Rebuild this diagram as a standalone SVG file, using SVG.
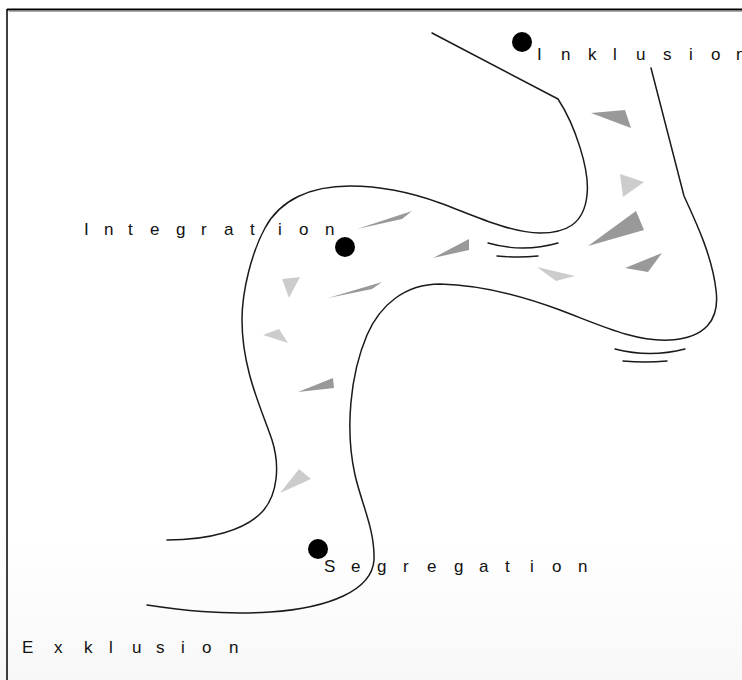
<svg xmlns="http://www.w3.org/2000/svg" width="742" height="680" viewBox="0 0 742 680">
  <defs>
    <linearGradient id="floor" x1="0" y1="0" x2="0" y2="1">
      <stop offset="0" stop-color="#ffffff"/>
      <stop offset="1" stop-color="#f8f8f8"/>
    </linearGradient>
  </defs>
  <style>
    .band { fill: none; stroke: #1a1a1a; stroke-width: 1.5; stroke-linecap: round; stroke-linejoin: round; }
    .ripple { fill: none; stroke: #1a1a1a; stroke-width: 1.4; stroke-linecap: round; }
    .dark { fill: #999999; }
    .light { fill: #cccccc; }
    .dot { fill: #000000; }
    .label { font-family: "Liberation Sans", Arial, sans-serif; font-size: 17px; fill: #111111; }
  </style>

  <!-- page background and frame -->
  <rect x="0" y="0" width="742" height="680" fill="#ffffff"/>
  <rect x="0" y="540" width="742" height="140" fill="url(#floor)"/>
  <line x1="7" y1="9.5" x2="742" y2="9.5" stroke="#000" stroke-width="2"/>
  <line x1="7" y1="9" x2="7" y2="680" stroke="#000" stroke-width="1.5"/>
  <line x1="9" y1="11.5" x2="742" y2="11.5" stroke="#aaa" stroke-width="1"/>

  <!-- the winding band -->
  <g id="connectors">
    <path class="band" d="M432,33 L558,99 C575,125 590,170 587,195 C584,225 565,233 540,233 C510,233 470,214 440,203 C410,192 380,186 350,186 C310,186 280,200 265,228 C252,252 242,290 242,320 C242,370 262,410 272,440 C280,465 278,495 262,512 C245,530 210,540 167,540"/>
    <path class="band" d="M651,68 L684,196 C695,220 712,255 716,290 C720,320 705,338 670,340 C635,342 600,325 560,310 C520,295 480,285 440,284 C405,284 380,305 367,335 C350,375 345,430 355,475 C362,505 375,530 374,560 C372,590 330,608 270,612 C220,615 180,610 147,605"/>
    <!-- ripples -->
    <path class="ripple" d="M488,243 Q523,253 558,243"/>
    <path class="ripple" d="M497,256 Q518,258 538,256"/>
    <path class="ripple" d="M615,349 Q650,358 685,349"/>
    <path class="ripple" d="M623,361 Q645,363 667,361"/>
  </g>

  <!-- drifting fragments -->
  <g id="fragments">
    <polygon class="dark" points="591,113 625,110 631,128"/>
    <polygon class="light" points="620,174 644,182 623,197"/>
    <polygon class="dark" points="588,246 636,211 644,230"/>
    <polygon class="dark" points="625,268 662,253 648,272"/>
    <polygon class="light" points="537,267 575,276 556,281"/>
    <polygon class="dark" points="433,258 469,239 469,250"/>
    <polygon class="dark" points="357,229 412,211 402,219"/>
    <polygon class="light" points="282,279 300,277 289,298"/>
    <polygon class="dark" points="328,298 382,282 372,289"/>
    <polygon class="light" points="263,335 279,329 288,343"/>
    <polygon class="dark" points="298,392 333,378 334,388"/>
    <polygon class="light" points="280,493 299,469 311,479"/>
  </g>

  <g id="inklusion">
    <circle class="dot" cx="522" cy="42" r="10"/>
    <text class="label" x="537 561 588 613 636 663 689 711 736" y="60">Inklusion</text>
  </g>

  <g id="integration">
    <circle class="dot" cx="345" cy="247" r="10"/>
    <text class="label" x="84 104 128 150 176 201 224 250 278 299 325" y="235">Integration</text>
  </g>

  <g id="segregation">
    <circle class="dot" cx="318" cy="549" r="10"/>
    <text class="label" x="324 351 377 403 427 454 479 505 530 552 578" y="572">Segregation</text>
  </g>

  <g id="exklusion">
    <text class="label" x="22 54 84 109 132 156 181 202 229" y="653">Exklusion</text>
  </g>
</svg>
